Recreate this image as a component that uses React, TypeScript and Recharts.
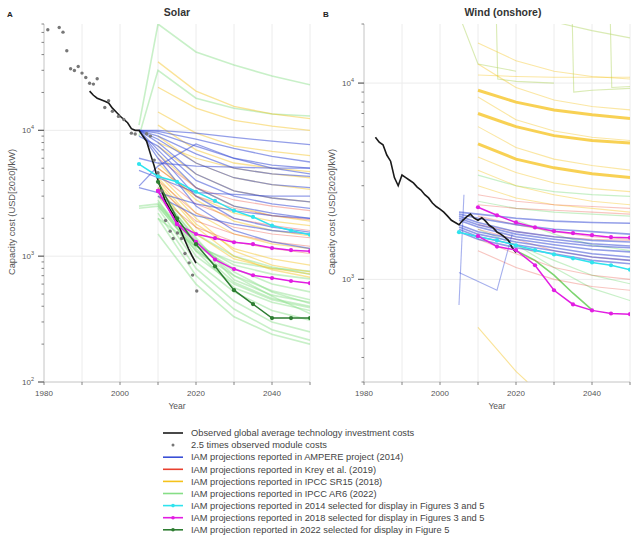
import { LineChart, Line, XAxis, YAxis, ReferenceLine } from "recharts";

const FONT = "'Liberation Sans', Arial, sans-serif";

const C_OBS = "#1a1a1a";
const C_DOT = "#777777";
const C_BLUE = "#3a4fd6";
const C_RED = "#e8402f";
const C_YELLOW = "#f5c21b";
const C_GREEN = "#86de86";
const C_CYAN = "#2fe3ee";
const C_MAGENTA = "#e21de2";
const C_DKGREEN = "#2e7d32";

// ---------- Solar ----------
const solarObsYears = [1992, 1993, 1994, 1995, 1996, 1997, 1998, 1999, 2000, 2001, 2002, 2003, 2004, 2005, 2006, 2007, 2008, 2009, 2010, 2011, 2012, 2013, 2014, 2015, 2016, 2017, 2018, 2019, 2020];
const solarObsCost = [20500, 19000, 18000, 17500, 17000, 16500, 15000, 14000, 13000, 12200, 11500, 10300, 10000, 10000, 9000, 8200, 6500, 5200, 4000, 3300, 2700, 2400, 2150, 1900, 1600, 1350, 1150, 1000, 880];

const moduleYears = [1981, 1984, 1985, 1986, 1987, 1988, 1989, 1990, 1991, 1992, 1993, 1994, 1996, 1997, 1998, 1999.6, 2001, 2003, 2004, 2007, 2008, 2009, 2010, 2011, 2012, 2013.2, 2014, 2015.1, 2016.2, 2017.1, 2018.2, 2019.1, 2020.2];
const moduleCost = [63000, 65700, 60300, 42900, 30900, 29900, 32200, 28500, 26300, 23700, 23300, 25700, 15200, 17200, 14200, 12900, 12200, 9500, 9350, 9400, 9000, 5800, 4600, 3300, 1920, 1580, 1380, 1530, 1380, 1050, 885, 707, 528];

const projYears = [2005, 2010, 2020, 2030, 2040, 2050];
const decYears = [2010, 2020, 2030, 2040, 2050];
const selYears = [2005, 2010, 2015, 2020, 2025, 2030, 2035, 2040, 2045, 2050];

const solarAmpere: (number | null)[][] = [
  [10000, 10000, 9500, 8800, 8200, 7700],
  [10000, 9800, 8500, 7200, 6200, 5600],
  [10000, 9500, 7500, 6000, 5300, 5000],
  [10000, 9000, 6500, 5000, 4500, 4300],
  [10000, 8500, 5500, 4200, 3700, 3500],
  [10000, 8000, 4500, 3300, 2900, 2700],
  [10000, 7000, 3500, 2500, 2200, 2000],
  [10000, 6500, 3000, 2000, 1700, 1550],
  [10000, 6000, 2500, 1600, 1300, 1150],
  [4800, 4200, 3200, 3100, 3000, 3000],
  [6000, 5500, 5200, 5100, 5000, 5000],
  [3500, 3200, 2600, 2300, 2100, 2000],
  [null, 3000, 2100, 1800, 1600, 1500],
  [3600, 5200, 7800, 6000, 5000, 4500],
  [9000, 7500, 4000, 3000, 2600, 2400],
];

const solarKrey: number[][] = [
  [5000, 3000, 2400, 2100, 1950],
  [4500, 2600, 2000, 1750, 1600],
  [4000, 2200, 1700, 1500, 1400],
  [3500, 1900, 1500, 1300, 1200],
  [3000, 1700, 1300, 1150, 1050],
  [6000, 3500, 2800, 2500, 2300],
];

const solarSr15: number[][] = [
  [35000, 20500, 15500, 13500, 12400],
  [22000, 15000, 12000, 10800, 10000],
  [14000, 9500, 7500, 6800, 6300],
  [11000, 7000, 5500, 5000, 4700],
  [9000, 5500, 4200, 3700, 3400],
  [7500, 4500, 3300, 2900, 2700],
  [6500, 3500, 2500, 2100, 1900],
  [5500, 2800, 1900, 1600, 1450],
  [4500, 2200, 1500, 1250, 1150],
  [4000, 1800, 1150, 950, 850],
  [3500, 1500, 950, 800, 720],
  [5000, 3000, 2200, 1900, 1750],
  [8000, 6000, 5000, 4500, 4200],
  [4200, 2000, 1100, 850, 750],
  [3800, 1700, 1000, 780, 680],
];

const solarAr6: (number | null)[][] = [
  [11000, 70000, 42000, 33000, 27000, 23000],
  [9000, 30000, 18000, 15000, 13500, 13000],
  [2500, 2600, 1200, 800, 600, 520],
  [2400, 2500, 1100, 700, 530, 450],
  [null, 2800, 1000, 600, 450, 390],
  [null, 3000, 1300, 750, 520, 420],
  [null, 2400, 900, 520, 370, 310],
  [null, 2200, 800, 440, 300, 250],
  [null, 2000, 700, 380, 260, 215],
  [null, 3500, 1500, 1000, 820, 720],
  [null, 2700, 1250, 850, 720, 660],
  [null, 2500, 1100, 560, 430, 370],
  [null, 3200, 1400, 650, 490, 430],
  [null, 2000, 1200, 900, 800, 760],
  [null, 2600, 1150, 620, 460, 400],
  [null, 3300, 1350, 700, 480, 350],
  [null, 1500, 600, 330, 240, 200],
];

const solarSel2014 = [5400, 4300, 3900, 3250, 2750, 2300, 2050, 1750, 1600, 1480];
const solarSel2018a = [null, 3300, 1800, 1500, 1390, 1290, 1245, 1160, 1115, 1095];
const solarSel2018b = [null, 3300, 1800, 1300, 940, 790, 705, 670, 635, 610];
const solarSel2022 = [null, 3900, 2000, 1245, 830, 537, 416, 322, 322, 322];

// ---------- Wind (onshore) ----------
const windObsYears = [1983, 1984, 1985, 1986, 1987, 1988, 1989, 1990, 1991, 1992, 1993, 1994, 1995, 1996, 1997, 1998, 1999, 2000, 2001, 2002, 2003, 2004, 2005, 2006, 2007, 2008, 2009, 2010, 2011, 2012, 2013, 2014, 2015, 2016, 2017, 2018, 2019, 2020];
const windObsCost = [5300, 5000, 4850, 4300, 4000, 3300, 3000, 3400, 3300, 3200, 3100, 2950, 2850, 2700, 2600, 2450, 2350, 2280, 2200, 2100, 2000, 1950, 1900, 2000, 2080, 2150, 2050, 2000, 2060, 1980, 1880, 1830, 1740, 1700, 1640, 1580, 1450, 1370];

const windAmpere: number[][] = [
  [2200, 2150, 2050, 1980, 1950, 1930],
  [2150, 2050, 1900, 1800, 1750, 1700],
  [2100, 1950, 1750, 1650, 1580, 1550],
  [2000, 1850, 1650, 1550, 1480, 1450],
  [1900, 1750, 1600, 1500, 1420, 1380],
  [1850, 1700, 1550, 1450, 1350, 1300],
  [1800, 1650, 1500, 1400, 1300, 1250],
  [1750, 1600, 1450, 1350, 1250, 1200],
  [2050, 1900, 1700, 1600, 1520, 1480],
];
const windAmpereOddYears = [[2005, 2006.3], [2005, 2015, 2019]];
const windAmpereOdd = [[740, 2700], [1085, 880, 1700]];

const windKrey: number[][] = [
  [2400, 2300, 2250, 2200, 2150],
  [2100, 1900, 1750, 1650, 1600],
  [1800, 1600, 1400, 1300, 1250],
  [1600, 1350, 1150, 1050, 1000],
  [1400, 1150, 1000, 920, 880],
  [2700, 2500, 2400, 2350, 2300],
  [1900, 1750, 1650, 1600, 1580],
];

const windSr15Bold: number[][] = [
  [9200, 8000, 7300, 6900, 6600],
  [7000, 6000, 5400, 5100, 4950],
  [4900, 4100, 3700, 3450, 3300],
];
const windSr15: number[][] = [
  [11000, 10800, 10700, 10700, 10700],
  [12500, 9500, 8200, 7600, 7300],
  [8500, 6500, 5700, 5300, 5100],
  [6000, 4700, 4100, 3800, 3600],
  [4200, 3500, 3100, 2900, 2800],
  [3600, 3000, 2700, 2500, 2400],
  [3000, 2600, 2400, 2300, 2200],
  [16000, 13000, 11500, 10800, 10500],
];
const windSr15LowYears = [2010, 2015, 2020, 2023];
const windSr15Low = [570, 440, 340, 300];

const windAr6: (number | null)[][] = [
  [2500, 2300, 2200, 2150, 2100],
  [1800, 1500, 1250, 1050, 950],
  [null, 1500, 1150, 900, 780],
  [3400, 3000, 2800, 2700, 2650],
  [null, 2000, 1700, 1500, 1400],
];
const windAr6SpikeYears = [[2014.5, 2015.2, 2020, 2030], [2034.5, 2035.2, 2040, 2050], [2044.5, 2045.2, 2050], [2004, 2010, 2020], [2030, 2040, 2050]];
const windAr6Spike = [[40000, 10500, 10200, 10000], [40000, 9000, 9200, 9400], [40000, 9500, 9600], [25000, 12500, 11500], [20500, 18500, 17000]];
const windAr6FocusYears = [2020, 2025, 2030, 2035, 2040];
const windAr6Focus = [1400, 1250, 1050, 850, 700];

const windSel2014 = [1740, 1650, 1580, 1490, 1410, 1340, 1280, 1220, 1180, 1120];
const windSel2018a = [null, 2330, 2120, 1950, 1840, 1760, 1720, 1680, 1640, 1630];
const windSel2018b = [null, 1660, 1470, 1410, 1180, 880, 745, 695, 670, 665];

// ---------- axis ticks ----------
const xTicks = [1980, 1990, 2000, 2010, 2020, 2030, 2040, 2050];
const solarYTicks = [100, 200, 300, 400, 500, 600, 700, 800, 900, 1000, 2000, 3000, 4000, 5000, 6000, 7000, 8000, 9000, 10000, 20000, 30000, 40000, 50000, 60000, 70000];
const windYTicks = [300, 400, 500, 600, 700, 800, 900, 1000, 2000, 3000, 4000, 5000, 6000, 7000, 8000, 9000, 10000, 20000];

const legendItems = [
  { label: "Observed global average technology investment costs", color: C_OBS, kind: "line" },
  { label: "2.5 times observed module costs", color: C_DOT, kind: "dot" },
  { label: "IAM projections reported in AMPERE project (2014)", color: C_BLUE, kind: "line" },
  { label: "IAM projections reported in Krey et al. (2019)", color: C_RED, kind: "line" },
  { label: "IAM projections reported in IPCC SR15 (2018)", color: C_YELLOW, kind: "line" },
  { label: "IAM projections reported in IPCC AR6 (2022)", color: C_GREEN, kind: "line" },
  { label: "IAM projections reported in 2014 selected for display in Figures 3 and 5", color: C_CYAN, kind: "marker" },
  { label: "IAM projections reported in 2018 selected for display in Figures 3 and 5", color: C_MAGENTA, kind: "marker" },
  { label: "IAM projection reported in 2022 selected for display in Figure 5", color: C_DKGREEN, kind: "marker" },
];

type Pt = { year: number; v: number };
type Series = { pts: Pt[]; color: string; w: number; op: number; dotR?: number; noLine?: boolean };

const toPts = (years: number[], vals: (number | null)[]): Pt[] =>
  years
    .map((year, i) => ({ year, v: vals[i] }))
    .filter((p) => p.v != null) as Pt[];

const group = (years: number[], rows: (number | null)[][], color: string, w: number, op: number): Series[] =>
  rows.map((r) => ({ pts: toPts(years, r), color, w, op }));

const solarSeries: Series[] = [
  ...group(projYears, solarAr6, C_GREEN, 1.6, 0.45),
  ...group(decYears, solarSr15, C_YELLOW, 1.3, 0.45),
  ...group(decYears, solarKrey, C_RED, 1.1, 0.35),
  ...group(projYears, solarAmpere, C_BLUE, 1.3, 0.55),
  { pts: toPts(moduleYears, moduleCost), color: C_DOT, w: 0, op: 1, dotR: 1.7, noLine: true },
  { pts: toPts(solarObsYears, solarObsCost), color: C_OBS, w: 1.6, op: 1 },
  { pts: toPts(selYears, solarSel2014), color: C_CYAN, w: 1.5, op: 1, dotR: 2.1 },
  { pts: toPts(selYears, solarSel2018a), color: C_MAGENTA, w: 1.5, op: 1, dotR: 2.1 },
  { pts: toPts(selYears, solarSel2018b), color: C_MAGENTA, w: 1.5, op: 1, dotR: 2.1 },
  { pts: toPts(selYears, solarSel2022), color: C_DKGREEN, w: 1.5, op: 1, dotR: 2.1 },
];

const windSeries: Series[] = [
  ...group(decYears, windAr6, C_GREEN, 1.2, 0.45),
  ...windAr6Spike.map((r, i) => ({ pts: toPts(windAr6SpikeYears[i], r), color: "#b5d86a", w: 1.1, op: 0.5 })),
  { pts: toPts(windAr6FocusYears, windAr6Focus), color: "#6fcf5f", w: 1.6, op: 0.9 },
  ...group(decYears, windSr15, C_YELLOW, 1.1, 0.4),
  ...group(decYears, windSr15Bold, C_YELLOW, 3, 0.75),
  { pts: toPts(windSr15LowYears, windSr15Low), color: C_YELLOW, w: 1.1, op: 0.45 },
  ...group(decYears, windKrey, C_RED, 1.1, 0.3),
  ...group(projYears, windAmpere, C_BLUE, 1.6, 0.55),
  ...windAmpereOdd.map((r, i) => ({ pts: toPts(windAmpereOddYears[i], r), color: C_BLUE, w: 1.1, op: 0.45 })),
  { pts: toPts(windObsYears, windObsCost), color: C_OBS, w: 1.6, op: 1 },
  { pts: toPts(selYears, windSel2014), color: C_CYAN, w: 1.5, op: 1, dotR: 2.1 },
  { pts: toPts(selYears, windSel2018a), color: C_MAGENTA, w: 1.5, op: 1, dotR: 2.1 },
  { pts: toPts(selYears, windSel2018b), color: C_MAGENTA, w: 1.5, op: 1, dotR: 2.1 },
];

const YTick = (props: any) => {
  const { x, y, payload } = props;
  const e = Math.log10(payload.value);
  const major = Math.abs(e - Math.round(e)) < 1e-6;
  return (
    <g>
      <line x1={x - (major ? 6 : 2.5)} x2={x} y1={y} y2={y} stroke="#666" strokeWidth={major ? 1.3 : 0.8} />
      {major && (
        <text x={x - 10} y={y + 3} textAnchor="end" fontSize={8} fill="#555" fontFamily={FONT}>
          10
          <tspan dy={-4} fontSize={5.5}>
            {Math.round(e)}
          </tspan>
        </text>
      )}
    </g>
  );
};

const XTick = (props: any) => {
  const { x, y, payload } = props;
  return (
    <g>
      <line x1={x} x2={x} y1={y} y2={y + 3} stroke="#666" strokeWidth={0.8} />
      {payload.value % 20 === 0 && (
        <text x={x} y={y + 14} textAnchor="middle" fontSize={8} fill="#555" fontFamily={FONT}>
          {payload.value}
        </text>
      )}
    </g>
  );
};

function Panel({ left, width, rightMargin, domain, ticks, series, gridY }: any) {
  return (
    <div style={{ position: "absolute", left, top: 0 }}>
      <LineChart width={width} height={410} margin={{ top: 24, right: rightMargin, bottom: 8, left: 14 }}>
        <XAxis
          dataKey="year"
          type="number"
          domain={[1980, 2050]}
          ticks={xTicks}
          interval={0}
          allowDataOverflow
          height={20}
          tickSize={0}
          tickMargin={0}
          tick={XTick}
          stroke="#c4c4c4"
        />
        <YAxis
          type="number"
          scale="log"
          domain={domain}
          ticks={ticks}
          interval={0}
          allowDataOverflow
          width={30}
          tickSize={0}
          tickMargin={0}
          tick={YTick}
          stroke="#c4c4c4"
        />
        {xTicks.slice(1).map((t) => (
          <ReferenceLine key={"gx" + t} x={t} stroke="#ececec" strokeWidth={1} />
        ))}
        {gridY.map((t: number) => (
          <ReferenceLine key={"gy" + t} y={t} stroke="#ececec" strokeWidth={1} />
        ))}
        {series.map((s: Series, i: number) => (
          <Line
            key={i}
            data={s.pts}
            dataKey="v"
            type="linear"
            stroke={s.noLine ? "none" : s.color}
            strokeWidth={s.w}
            strokeOpacity={s.op}
            dot={s.dotR ? { r: s.dotR, fill: s.color, stroke: "none" } : false}
            activeDot={false}
            isAnimationActive={false}
          />
        ))}
      </LineChart>
    </div>
  );
}

export default function App() {
  return (
    <div style={{ position: "absolute", left: 0, top: 0, width: 633, height: 544, background: "#fff", fontFamily: FONT }}>
      <Panel left={0} width={320} rightMargin={10} domain={[100, 70000]} ticks={solarYTicks} series={solarSeries} gridY={[1000, 10000]} />
      <Panel left={320} width={313} rightMargin={3} domain={[300, 20000]} ticks={windYTicks} series={windSeries} gridY={[1000, 10000]} />
      <svg width={633} height={544} style={{ position: "absolute", left: 0, top: 0, pointerEvents: "none" }} fontFamily={FONT}>
        <text x={7} y={17} fontSize={8} fontWeight="bold" fill="#222">A</text>
        <text x={177} y={16} fontSize={10.5} fontWeight="bold" fill="#333" textAnchor="middle">Solar</text>
        <text x={323} y={17} fontSize={8} fontWeight="bold" fill="#222">B</text>
        <text x={503} y={16} fontSize={10.5} fontWeight="bold" fill="#333" textAnchor="middle">Wind (onshore)</text>
        <text x={15} y={212} fontSize={9.3} fill="#555" textAnchor="middle" transform="rotate(-90 15 212)">Capacity cost (USD[2020]/kW)</text>
        <text x={335} y={212} fontSize={9.3} fill="#555" textAnchor="middle" transform="rotate(-90 335 212)">Capacity cost (USD[2020]/kW)</text>
        <text x={177} y={409} fontSize={8.5} fill="#555" textAnchor="middle">Year</text>
        <text x={497} y={409} fontSize={8.5} fill="#555" textAnchor="middle">Year</text>
        {legendItems.map((it, i) => {
          const cy = 433 + i * 12.1;
          return (
            <g key={it.label}>
              {it.kind !== "dot" && <line x1={163} x2={183} y1={cy} y2={cy} stroke={it.color} strokeWidth={1.6} />}
              {it.kind !== "line" && <circle cx={173} cy={cy} r={it.kind === "dot" ? 1.5 : 1.8} fill={it.color} />}
              <text x={191} y={cy + 3.2} fontSize={9.3} fill="#444">{it.label}</text>
            </g>
          );
        })}
      </svg>
    </div>
  );
}
